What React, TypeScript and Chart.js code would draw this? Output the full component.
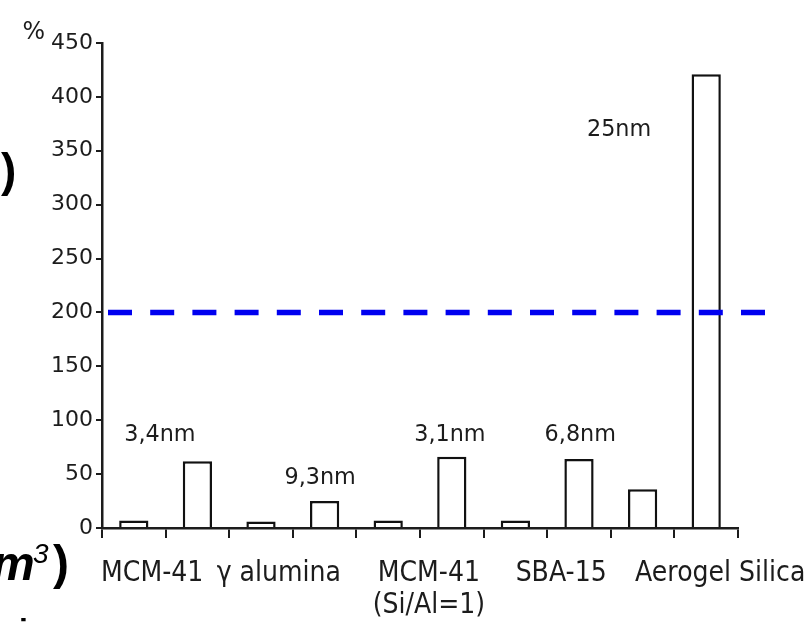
import React, { useEffect, useRef } from "react";
import { Chart, registerables } from "chart.js";

Chart.register(...registerables);

// ---- data ----
const barSlots = [
  "MCM-41 a", "MCM-41 b",
  "γ alumina a", "γ alumina b",
  "MCM-41 (Si/Al=1) a", "MCM-41 (Si/Al=1) b",
  "SBA-15 a", "SBA-15 b",
  "Aerogel Silica a", "Aerogel Silica b",
];
const barValues = [7, 62, 6, 25, 7, 66, 7, 64, 36, 421];
const categories: (string | string[])[] = [
  "MCM-41",
  "γ alumina",
  ["MCM-41", "(Si/Al=1)"],
  "SBA-15",
  "Aerogel Silica",
];
const poreSizes = ["3,4nm", "9,3nm", "3,1nm", "6,8nm", "25nm"];
const yMin = 0;
const yMax = 450;
const yStep = 50;
const yUnit = "%";
const thresholdValue = 200;

// ---- layout (in scale units) ----
const categoryAnchors = [0.29, 2.28, 4.64, 6.72, 9.22];
const poreAnchorsX = [0.41, 2.93, 4.97, 7.02, 7.63];
const poreAnchorsY = [86, 46, 86, 86, 369];

const FONT = "'DejaVu Sans', 'Noto Sans', sans-serif";
const INK = "#1c1c1c";

function drawCondensed(ctx: CanvasRenderingContext2D, text: string, x: number, y: number, sx: number) {
  ctx.save();
  ctx.translate(x, y);
  ctx.scale(sx, 1);
  ctx.fillText(text, 0, 0);
  ctx.restore();
}

const overlayPlugin = {
  id: "overlay",
  afterDraw(chart: any) {
    const ctx = chart.ctx as CanvasRenderingContext2D;
    const xs = chart.scales.x;
    const ys = chart.scales.y;
    const area = chart.chartArea;
    ctx.save();

    // threshold dashed line
    const ty = ys.getPixelForValue(thresholdValue);
    ctx.strokeStyle = "rgb(0,0,240)";
    ctx.lineWidth = 5.5;
    ctx.setLineDash([24, 18.2]);
    ctx.beginPath();
    ctx.moveTo(area.left + 6, ty);
    ctx.lineTo(area.right + 27, ty);
    ctx.stroke();
    ctx.setLineDash([]);

    // pore size annotations
    ctx.fillStyle = INK;
    ctx.font = `23px ${FONT}`;
    ctx.textAlign = "center";
    ctx.textBaseline = "middle";
    poreSizes.forEach((t, i) => {
      drawCondensed(ctx, t, xs.getPixelForValue(poreAnchorsX[i]), ys.getPixelForValue(poreAnchorsY[i]), 0.97);
    });

    // category labels
    ctx.font = `28px ${FONT}`;
    categories.forEach((c, i) => {
      const lines = Array.isArray(c) ? c : [c];
      const x = xs.getPixelForValue(categoryAnchors[i]);
      lines.forEach((ln, j) => {
        drawCondensed(ctx, ln, x, area.bottom + 46 + j * 32, 0.9);
      });
    });

    // unit symbol at top of y axis
    ctx.font = `25px ${FONT}`;
    ctx.textAlign = "right";
    drawCondensed(ctx, yUnit, 45, ys.getPixelForValue(yMax) - 11, 0.95);

    // fragments of surrounding slide text
    ctx.textAlign = "left";
    ctx.textBaseline = "alphabetic";
    ctx.fillStyle = "#000";
    ctx.font = `bold 46px 'Liberation Sans', Arial, sans-serif`;
    ctx.fillText(")", 1, 186);
    ctx.font = `italic bold 48px 'Liberation Sans', Arial, sans-serif`;
    ctx.fillText("m", -8, 580);
    ctx.font = `italic 28px 'Liberation Sans', Arial, sans-serif`;
    ctx.fillText("3", 33, 563);
    ctx.font = `bold 48px 'Liberation Sans', Arial, sans-serif`;
    ctx.fillText(")", 53, 579);
    ctx.font = `bold 32px 'Liberation Sans', Arial, sans-serif`;
    ctx.fillText("i", 19, 641);

    ctx.restore();
  },
};

export default function App() {
  const ref = useRef<HTMLCanvasElement | null>(null);

  useEffect(() => {
    if (!ref.current) return;
    const chart = new Chart(ref.current, {
      type: "bar",
      data: {
        labels: barSlots,
        datasets: [
          {
            data: barValues,
            backgroundColor: "#ffffff",
            borderColor: "#111111",
            borderWidth: 2.5,
            barPercentage: 0.46,
            categoryPercentage: 1,
          },
        ],
      },
      options: {
        animation: false,
        responsive: false,
        devicePixelRatio: 1,
        layout: { padding: { top: 43, right: 72, left: 0, bottom: 0 } },
        plugins: {
          legend: { display: false },
          tooltip: { enabled: false },
        },
        scales: {
          x: {
            type: "category",
            offset: true,
            grid: {
              offset: true,
              drawOnChartArea: false,
              drawTicks: true,
              tickLength: 10,
              color: INK,
              lineWidth: 2,
            },
            border: { display: true, color: INK, width: 2.5 },
            ticks: { display: false },
            afterFit: (s: any) => {
              s.height = 96;
            },
          },
          y: {
            min: yMin,
            max: yMax,
            ticks: {
              stepSize: yStep,
              font: { family: FONT, size: 22 },
              color: INK,
              padding: 3,
            },
            grid: {
              drawOnChartArea: false,
              tickLength: 6,
              color: INK,
              lineWidth: 2,
            },
            border: { display: true, color: INK, width: 2.5 },
            afterFit: (s: any) => {
              s.width = 102;
            },
          },
        },
      },
      plugins: [overlayPlugin],
    });
    return () => chart.destroy();
  }, []);

  return (
    <div style={{ position: "absolute", left: 0, top: 0, width: 810, height: 624, background: "#fff" }}>
      <canvas ref={ref} width={810} height={624} style={{ display: "block" }} />
    </div>
  );
}
